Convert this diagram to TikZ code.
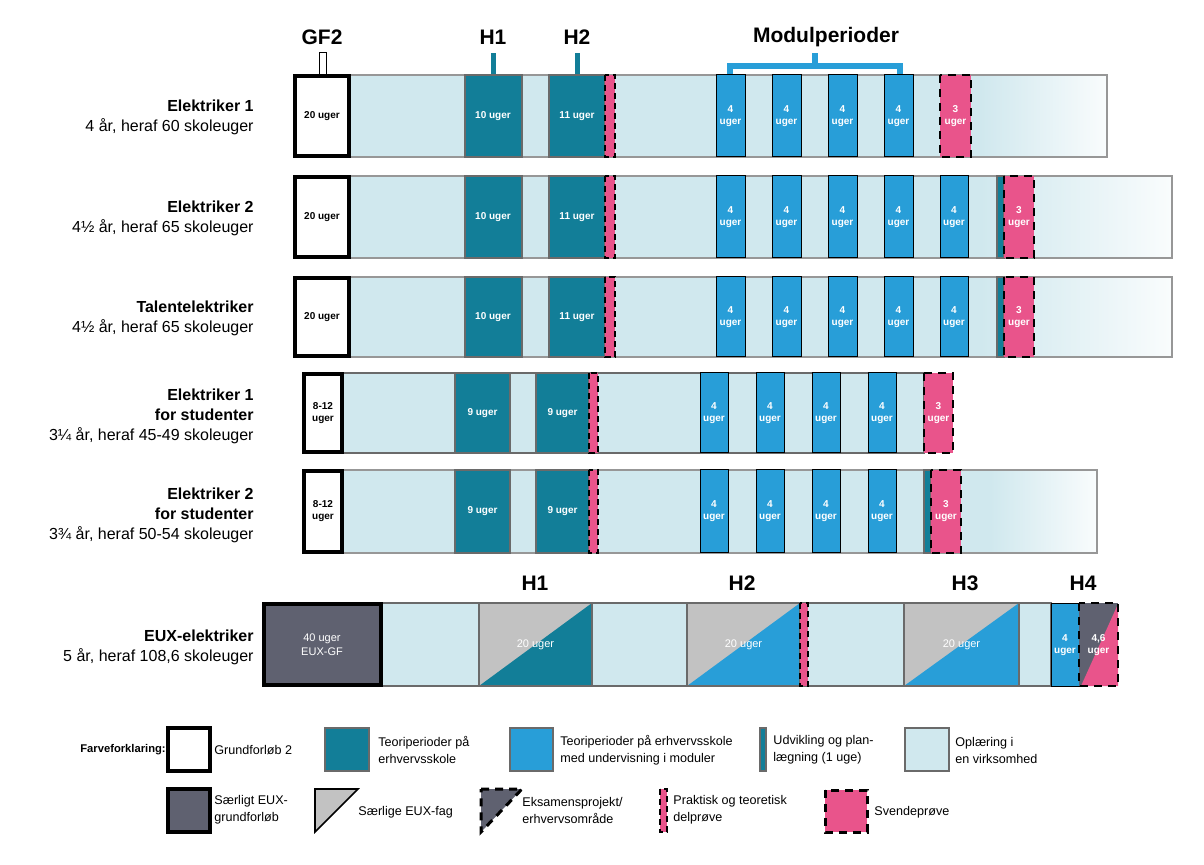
\documentclass[tikz,border=0pt]{standalone}
\usepackage{fontspec}
\setmainfont{Liberation Sans}
\definecolor{tealc}{HTML}{127E98}
\definecolor{bluec}{HTML}{289ED8}
\definecolor{lightc}{HTML}{D0E8EE}
\definecolor{pinkc}{HTML}{E9548B}
\definecolor{grayc}{HTML}{C2C2C2}
\definecolor{darkc}{HTML}{5F6170}
\definecolor{edgec}{HTML}{6A6A6A}
\tikzset{
  bar/.style={draw=edgec, line width=0.6pt},
  light/.style={bar, fill=lightc},
  teori/.style={bar, fill=tealc},
  modul/.style={draw=black, line width=0.5pt, fill=bluec},
  delp/.style={fill=pinkc, draw=black, dash pattern=on 3pt off 2pt, line width=0.7pt},
  svende/.style={fill=pinkc, draw=black, dash pattern=on 4pt off 3pt, line width=1pt},
  gf/.style={fill=white, draw=black, line width=2pt},
  euxgf/.style={fill=darkc, draw=black, line width=2pt},
  wk/.style={text=white, font=\bfseries\fontsize{5}{6}\selectfont, align=center, inner sep=0pt},
  bk/.style={text=black, font=\bfseries\fontsize{5}{6}\selectfont, align=center, inner sep=0pt},
  head/.style={font=\bfseries\fontsize{10.5}{12}\selectfont, inner sep=0pt},
  rowlab/.style={anchor=east, align=right, font=\fontsize{8}{10}\selectfont, inner sep=0pt},
  leg/.style={anchor=west, align=left, font=\fontsize{6.3}{8.5}\selectfont, inner sep=0pt},
}
% a block from x1 to x2 and y1 to y2
\newcommand{\seg}[5]{\draw[#1] (#2,#4) rectangle (#3,#5);}
% light bar with a faded end: x1, x2, y1, y2, fade start
\newcommand{\fadebar}[5]{%
  \fill[lightc] (#1,#3) rectangle (#5,#4);
  \shade[left color=lightc, right color=lightc!12] (#5,#3) rectangle (#2,#4);
  \draw[edgec!70, line width=0.6pt] (#1,#3) rectangle (#2,#4);}
\begin{document}
\begin{tikzpicture}[x=0.5pt,y=-0.5pt]
\useasboundingbox (0,0) rectangle (1204,865);

% headers
\node[head] (gfh) at (322,37) {GF2};
\node[head] (h1h) at (493,37) {H1};
\node[head] (h2h) at (577,37) {H2};
\node[head] (modh) at (826,37) {Modulperioder};
\draw[black, fill=white, line width=0.5pt] (319,53) rectangle (326,75);
\fill[tealc] (491,53) rectangle (496,75);
\fill[tealc] (575,53) rectangle (580,75);
\draw[bluec, line width=3pt] (730,75) -- (730,66) -- (900,66) -- (900,75);
\draw[bluec, line width=3pt] (815,66) -- (815,53);

% row 1-3
\foreach \ya/\yb/\xe/\n in {75/157/1107/1, 176/258/1172/2, 277/357/1172/3}{
  \pgfmathsetmacro{\ym}{(\ya+\yb)/2}
  \fadebar{350}{\xe}{\ya}{\yb}{980}
  \seg{gf}{295}{349}{\ya+1}{\yb-1}
  \node[bk] (gf\n) at (322,\ym) {20 uger};
  \seg{teori}{465}{522}{\ya}{\yb}
  \node[wk] (ha\n) at (493,\ym) {10 uger};
  \seg{teori}{549}{605}{\ya}{\yb}
  \node[wk] (hb\n) at (577,\ym) {11 uger};
  \seg{delp}{605}{615}{\ya}{\yb}
  \foreach \x in {716,772,828,884}{
    \seg{modul}{\x}{\x+29}{\ya}{\yb}
    \node[wk] at (\x+14.5,\ym) {4\\uger};
  }
}
\seg{svende}{940}{971}{75}{157}
\node[wk] (sv1) at (955.5,116) {3\\uger};
\foreach \ya/\yb/\n in {176/258/2, 277/357/3}{
  \pgfmathsetmacro{\ym}{(\ya+\yb)/2}
  \seg{modul}{940}{968}{\ya}{\yb}
  \node[wk] (m\n) at (954,\ym) {4\\uger};
  \seg{teori}{997}{1004}{\ya}{\yb}
  \seg{svende}{1004}{1034}{\ya}{\yb}
  \node[wk] (sv\n) at (1019,\ym) {3\\uger};
}

% row 4-5
\fill[lightc] (343,373) rectangle (924,453);
\draw[edgec, line width=0.6pt] (343,373) rectangle (924,453);
\fadebar{343}{1097}{470}{553}{990}
\foreach \ya/\yb/\n in {373/453/4, 470/553/5}{
  \pgfmathsetmacro{\ym}{(\ya+\yb)/2}
  \seg{gf}{304}{342}{\ya+1}{\yb-1}
  \node[bk] (gf\n) at (323,\ym) {8-12\\uger};
  \seg{teori}{455}{510}{\ya}{\yb}
  \node[wk] (ha\n) at (482.5,\ym) {9 uger};
  \seg{teori}{536}{589}{\ya}{\yb}
  \node[wk] (hb\n) at (562.5,\ym) {9 uger};
  \seg{delp}{589}{598}{\ya}{\yb}
  \foreach \x in {700,756,812,868}{
    \seg{modul}{\x}{\x+28}{\ya}{\yb}
    \node[wk] at (\x+14,\ym) {4\\uger};
  }
}
\seg{svende}{924}{953}{373}{453}
\node[wk] (sv4) at (938.5,413) {3\\uger};
\seg{teori}{924}{931}{470}{553}
\seg{svende}{931}{961}{470}{553}
\node[wk] (sv5) at (946,511) {3\\uger};

% row 6 (EUX)
\node[head] (e1h) at (535,583) {H1};
\node[head] (e2h) at (742,583) {H2};
\node[head] (e3h) at (965,583) {H3};
\node[head] (e4h) at (1083,583) {H4};
\seg{light}{381}{1051}{603}{686}
\seg{euxgf}{264}{381}{604}{685}
\node[wk, font=\fontsize{5.5}{7}\selectfont] (egf) at (322,645) {40 uger\\EUX-GF};
\foreach \xa/\xb/\c/\n in {479/592/tealc/1, 687/800/bluec/2, 904/1019/bluec/3}{
  \fill[grayc] (\xa,603) rectangle (\xb,686);
  \fill[\c] (\xa,686) -- (\xb,603) -- (\xb,686) -- cycle;
  \draw[edgec, line width=0.6pt] (\xa,603) rectangle (\xb,686);
  \node[wk, font=\fontsize{5.5}{7}\selectfont] (eh\n) at ({(\xa+\xb)/2},645) {20 uger};
}
\seg{delp}{800}{808}{603}{686}
\seg{modul}{1051}{1079}{603}{686}
\node[wk] (em) at (1065,645) {4\\uger};
\fill[darkc] (1079,603) rectangle (1118,686);
\fill[pinkc] (1081,686) -- (1118,604) -- (1118,686) -- cycle;
\draw[black, dash pattern=on 4pt off 3pt, line width=1pt] (1079,603) rectangle (1118,686);
\node[wk] (eh4) at (1098.5,645) {4,6\\uger};

% row labels
\node[rowlab] (r1) at (254,117) {\textbf{Elektriker 1}\\4 år, heraf 60 skoleuger};
\node[rowlab] (r2) at (254,218) {\textbf{Elektriker 2}\\4½ år, heraf 65 skoleuger};
\node[rowlab] (r3) at (254,318) {\textbf{Talentelektriker}\\4½ år, heraf 65 skoleuger};
\node[rowlab] (r4) at (254,416) {\textbf{Elektriker 1}\\\textbf{for studenter}\\3¼ år, heraf 45-49 skoleuger};
\node[rowlab] (r5) at (254,515) {\textbf{Elektriker 2}\\\textbf{for studenter}\\3¾ år, heraf 50-54 skoleuger};
\node[rowlab] (r6) at (254,647) {\textbf{EUX-elektriker}\\5 år, heraf 108,6 skoleuger};

% legend
\node[anchor=west, inner sep=0pt, font=\bfseries\fontsize{5.6}{7}\selectfont] (fk) at (80,750) {Farveforklaring:};
\seg{gf}{168}{210}{728}{771}
\node[leg] (l1) at (214,750) {Grundforløb 2};
\seg{teori}{325}{369}{728}{771}
\node[leg] (l2) at (378,750) {Teoriperioder på\\erhvervsskole};
\seg{bar, fill=bluec}{510}{553}{728}{771}
\node[leg] (l3) at (560,750) {Teoriperioder på erhvervsskole\\med undervisning i moduler};
\seg{teori}{760}{766}{728}{771}
\node[leg] (l4) at (773,750) {Udvikling og plan-\\lægning (1 uge)};
\seg{light}{905}{949}{728}{771}
\node[leg] (l5) at (955,750) {Oplæring i\\en virksomhed};
\seg{euxgf}{168}{210}{789}{832}
\node[leg] (l6) at (214,810) {Særligt EUX-\\grundforløb};
\draw[black, fill=grayc, line width=0.8pt] (315,789) -- (358,789) -- (315,832) -- cycle;
\node[leg] (l7) at (358,812) {Særlige EUX-fag};
\draw[black, fill=darkc, dash pattern=on 4pt off 3pt, line width=1.5pt] (481,789) -- (522,789) -- (481,832) -- cycle;
\node[leg] (l8) at (522,810) {Eksamensprojekt/\\erhvervsområde};
\seg{delp}{660}{667}{789}{832}
\node[leg] (l9) at (673,810) {Praktisk og teoretisk\\delprøve};
\seg{svende, line width=1.5pt}{825}{867}{790}{832}
\node[leg] (l10) at (874,812) {Svendeprøve};
\end{tikzpicture}
\end{document}
